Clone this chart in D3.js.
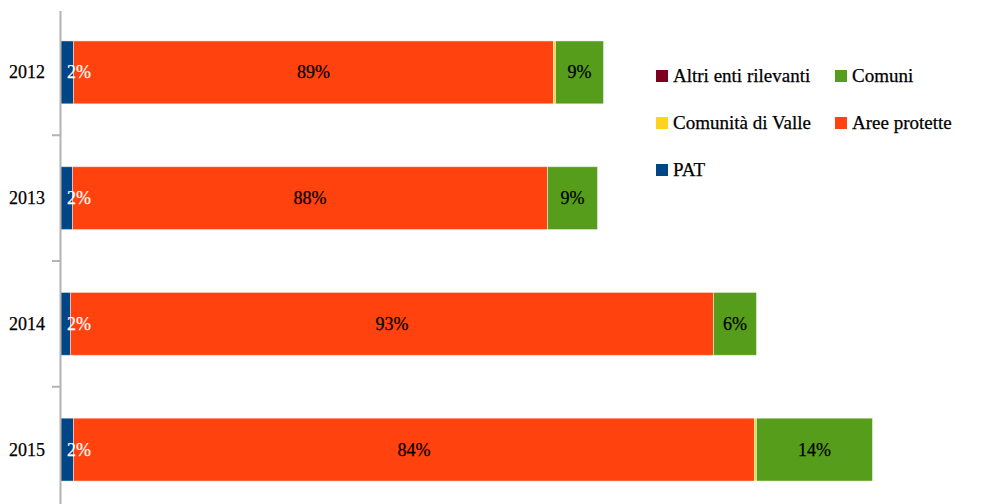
<!DOCTYPE html>
<html>
<head>
<meta charset="utf-8">
<script src="https://cdn.jsdelivr.net/npm/d3@7"></script>
<style>
  body { margin: 0; background: #fff; }
  text { font-family: "Liberation Serif", "DejaVu Serif", serif; }
</style>
</head>
<body>
<div id="chart"></div>
<script>

var years = ["2012", "2013", "2014", "2015"];
var seriesNames = ["PAT", "Aree protette", "Comunità di Valle", "Comuni", "Altri enti rilevanti"];
var colors = ["#004586", "#ff420e", "#ffd320", "#579d1c", "#7e0021"];

// bar values per series (same order as years)
var pat = [13, 12, 10, 13];
var areeProtette = [480, 475, 643, 681];
var comunitaValle = [2, 0, 0, 2];
var comuni = [48, 50, 43, 116];
var altriEnti = [0, 0, 0, 0];

// percentage labels shown on the bars
var patLabels = ["2%", "2%", "2%", "2%"];
var areeLabels = ["89%", "88%", "93%", "84%"];
var comuniLabels = ["9%", "9%", "6%", "14%"];

var legendOrder = ["Altri enti rilevanti", "Comuni", "Comunità di Valle", "Aree protette", "PAT"];

var width = 992, height = 504;

var table = years.map(function(y, i) {
    return {
        year: y,
        "PAT": pat[i],
        "Aree protette": areeProtette[i],
        "Comunità di Valle": comunitaValle[i],
        "Comuni": comuni[i],
        "Altri enti rilevanti": altriEnti[i]
    };
});
var labels = {
    "PAT": patLabels,
    "Aree protette": areeLabels,
    "Comuni": comuniLabels
};

var color = d3.scaleOrdinal().domain(seriesNames).range(colors);

var x = d3.scaleLinear().domain([0, 930]).range([60.5, 990.5]);
var y = d3.scaleBand().domain(years).range([9.5, 512.5]).paddingInner(0.5).paddingOuter(0.25);

var svg = d3.select("#chart").append("svg")
    .attr("width", width)
    .attr("height", height);

var stack = d3.stack().keys(seriesNames);
var layers = stack(table);

var layer = svg.selectAll("g.layer")
    .data(layers)
    .enter().append("g")
    .attr("class", "layer")
    .attr("fill", function(d) { return color(d.key); });

layer.selectAll("rect")
    .data(function(d) { return d; })
    .enter().append("rect")
    .attr("x", function(d) { return x(d[0]); })
    .attr("y", function(d) { return y(d.data.year); })
    .attr("height", y.bandwidth())
    .attr("width", function(d) { return x(d[1]) - x(d[0]); })
    .attr("stroke", "rgba(255,255,255,0.45)")
    .attr("stroke-width", 1);

// labels
layers.forEach(function(l) {
    if (!labels[l.key]) return;
    l.forEach(function(d, i) {
        var w = x(d[1]) - x(d[0]);
        var small = w < 30;
        svg.append("text")
            .attr("x", small ? x(d[0]) + 6.5 : (x(d[0]) + x(d[1])) / 2)
            .attr("y", y(d.data.year) + y.bandwidth() / 2 + 6)
            .attr("text-anchor", small ? "start" : "middle")
            .attr("font-size", 18)
            .attr("fill", l.key == "PAT" ? "#fff" : "#000")
            .attr("stroke", l.key == "PAT" ? "#fff" : "#000")
            .attr("stroke-width", 0.25)
            .text(labels[l.key][i]);
    });
});

// y axis line and ticks
svg.append("line")
    .attr("x1", 60.5).attr("x2", 60.5)
    .attr("y1", 11).attr("y2", height)
    .attr("stroke", "#b3b3b3")
    .attr("stroke-width", 2);

years.slice(1).forEach(function(yr) {
    var ty = y(yr) - y.step() * y.paddingInner() / 2;
    svg.append("line")
        .attr("x1", 52).attr("x2", 60)
        .attr("y1", ty).attr("y2", ty)
        .attr("stroke", "#b3b3b3")
        .attr("stroke-width", 2);
});

svg.selectAll("text.year")
    .data(years)
    .enter().append("text")
    .attr("class", "year")
    .attr("x", 45)
    .attr("y", function(d) { return y(d) + y.bandwidth() / 2 + 6; })
    .attr("text-anchor", "end")
    .attr("font-size", 18)
    .attr("fill", "#000")
    .attr("stroke", "#000")
    .attr("stroke-width", 0.25)
    .text(function(d) { return d; });

// legend
var legend = svg.append("g").attr("transform", "translate(656,70)");
legendOrder.forEach(function(name, i) {
    var col = i % 2, row = Math.floor(i / 2);
    var g = legend.append("g")
        .attr("transform", "translate(" + (col * 179) + "," + (row * 47) + ")");
    g.append("rect")
        .attr("width", 12).attr("height", 12)
        .attr("fill", color(name));
    g.append("text")
        .attr("x", 17)
        .attr("y", 12)
        .attr("font-size", 19)
        .attr("fill", "#000")
        .attr("stroke", "#000")
        .attr("stroke-width", 0.25)
        .text(name);
});

</script>
</body>
</html>
